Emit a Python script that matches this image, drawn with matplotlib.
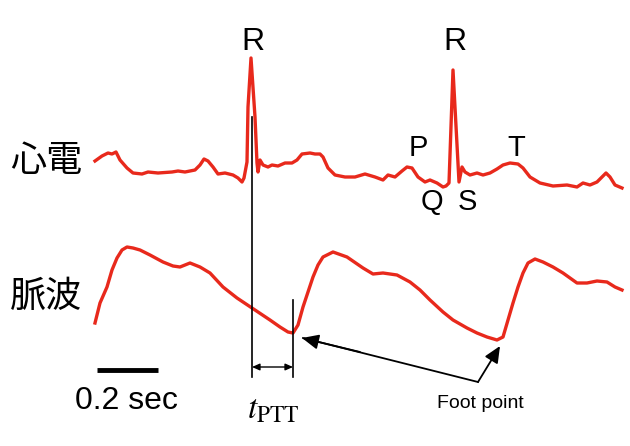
import matplotlib
matplotlib.use('Agg')
import matplotlib.pyplot as plt
import numpy as np

plt.rcParams['font.family'] = ['Liberation Sans', 'Noto Sans CJK JP', 'DejaVu Sans']
plt.rcParams['mathtext.fontset'] = 'stix'

# traces, in pixel units (x right, y down)
ecg_x = [95, 102, 108, 112, 116, 120, 127, 133, 142, 148, 158, 172, 178, 185,
         195, 200, 204, 208, 213, 218, 225, 233, 238, 242, 244, 247, 248, 251,
         255, 257, 258, 260, 263, 268, 272, 278, 285, 292, 297, 302, 310, 315,
         320, 323, 328, 335, 345, 355, 365, 375, 383, 388, 395, 402, 407, 412,
         418, 425, 430, 437, 443, 446, 449, 453, 459, 462, 465, 470, 477, 483,
         490, 497, 503, 510, 518, 523, 530, 540, 553, 567, 577, 583, 590, 597,
         602, 606, 610, 615, 622]
ecg_y = [161, 156, 153, 154, 152, 160, 168, 173, 174, 172, 173, 172, 171, 172,
         170, 165, 159, 161, 167, 174, 173, 175, 178, 182, 178, 162, 107, 58,
         117, 163, 172, 160, 165, 167, 165, 166, 163, 163, 160, 154, 153, 154,
         154, 157, 168, 175, 177, 177, 174, 177, 180, 175, 177, 171, 167, 168,
         177, 182, 180, 183, 187, 186, 183, 70, 182, 167, 172, 175, 173, 175,
         173, 169, 165, 163, 164, 168, 177, 183, 186, 185, 187, 183, 185, 182,
         177, 173, 177, 185, 188]

pulse_x = [95, 100, 107, 112, 117, 122, 127, 133, 140, 150, 163, 173, 180,
           190, 200, 210, 223, 237, 252, 270, 280, 288, 293, 298, 303, 308,
           313, 318, 323, 333, 347, 363, 373, 383, 397, 410, 420, 430, 443,
           453, 467, 477, 487, 497, 503, 508, 513, 518, 523, 528, 535, 543,
           553, 563, 577, 587, 597, 607, 615, 622]
pulse_y = [323, 303, 287, 270, 258, 250, 247, 248, 250, 255, 262, 266, 267,
           263, 267, 273, 287, 298, 308, 320, 327, 332, 333, 325, 307, 292,
           277, 265, 257, 252, 257, 268, 274, 273, 275, 282, 290, 300, 312,
           320, 328, 333, 337, 340, 337, 320, 303, 287, 273, 263, 259, 262,
           267, 273, 283, 283, 281, 282, 287, 290]

wave_labels = ['P', 'T', 'Q', 'S']
r_peaks = [253, 455]
t_ptt = [252, 293]
foot = (500, 343)

red = '#e8291c'

fig = plt.figure(figsize=(6.3, 4.46), dpi=100)
ax = fig.add_axes([0, 0, 1, 1])
ax.set_xlim(0, 630)
ax.set_ylim(446, 0)
ax.axis('off')

ax.plot(ecg_x, ecg_y, color=red, lw=2.4, solid_joinstyle='round')
ax.plot(pulse_x, pulse_y, color=red, lw=2.4, solid_joinstyle='round')

for xr in r_peaks:
    ax.text(xr, 42, 'R', ha='center', va='center', size=23)
for lab, (xt, yt) in zip(wave_labels, [(418, 148), (516, 148), (432, 202), (467, 202)]):
    ax.text(xt, yt, lab, ha='center', va='center', size=21)

ax.text(46, 161, '心電', ha='center', va='center', size=26,
        family=['Noto Sans CJK JP', 'DejaVu Sans'])
ax.text(46, 297, '脈波', ha='center', va='center', size=26,
        family=['Noto Sans CJK JP', 'DejaVu Sans'])

# PTT markers
ax.plot([t_ptt[0], t_ptt[0]], [117, 377], color='k', lw=1.2)
ax.plot([t_ptt[1], t_ptt[1]], [300, 377], color='k', lw=1.2)
ax.annotate('', xy=(t_ptt[0], 367), xytext=(t_ptt[1], 367),
            arrowprops=dict(arrowstyle='<|-|>,head_width=0.2,head_length=0.45',
                            fc='k', lw=1.0, shrinkA=0, shrinkB=0))
ax.text(273, 410, r'$t_{\mathrm{PTT}}$', ha='center', va='center', size=24)

# foot point arrows
ax.plot([478, 303], [382, 338], color='k', lw=1.3)
ax.annotate('', xy=(302, 338), xytext=(360, 352),
            arrowprops=dict(arrowstyle='-|>,head_width=0.45,head_length=1.0',
                            fc='k', lw=1.3, shrinkA=0, shrinkB=0))
ax.annotate('', xy=(foot[0], foot[1] + 3), xytext=(478, 382),
            arrowprops=dict(arrowstyle='-|>,head_width=0.45,head_length=1.0',
                            fc='k', lw=1.3, shrinkA=0, shrinkB=0))
ax.text(480, 403, 'Foot point', ha='center', va='center', size=14)

# scale bar
ax.plot([97, 158], [370, 370], color='k', lw=3.5, solid_capstyle='butt')
ax.text(126, 401, '0.2 sec', ha='center', va='center', size=23)

fig.savefig('out.png', dpi=100)
